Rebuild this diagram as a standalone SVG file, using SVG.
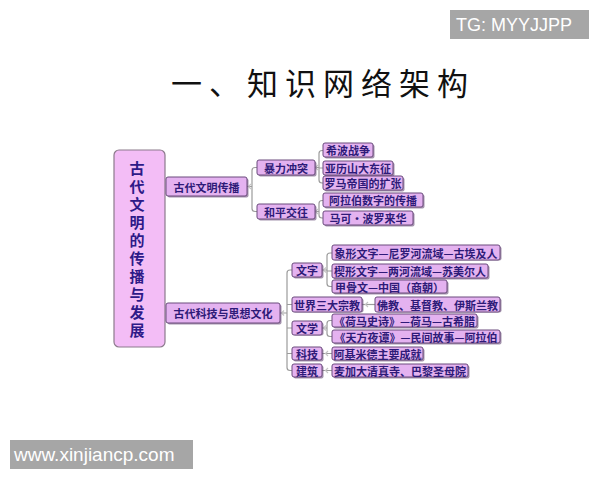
<svg xmlns="http://www.w3.org/2000/svg" width="600" height="480" viewBox="0 0 600 480">
<style>
.bx{fill:#e4b2f0;stroke:#6a4a7c;stroke-width:1}
.sh{fill:#5a3a6a;opacity:0.55}
.t{font-family:"Noto Sans CJK SC","Noto Sans",sans-serif;font-weight:bold;font-size:11px;fill:#2e1a78;text-anchor:middle;dominant-baseline:central}
.c{fill:none;stroke:#9c9c9c;stroke-width:1.2}
.ch{fill:none;stroke:#c4c4c4;stroke-width:1.2}
.wm{fill:#a6a6a6}
.wt{font-family:"Liberation Sans",Arial,sans-serif;fill:#ffffff}
</style>
<rect width="600" height="480" fill="#ffffff"/>
<g id="watermark-top"><rect class="wm" x="450" y="10" width="139" height="29"/><text class="wt" x="456" y="31" font-size="18">TG: MYYJJPP</text></g>
<g id="watermark-bottom"><rect class="wm" x="10" y="440" width="183" height="29"/><text class="wt" x="14" y="461" font-size="19">www.xinjiancp.com</text></g>
<text id="title" x="323" y="95" font-family="'Noto Sans CJK SC',sans-serif" font-size="31" letter-spacing="7" text-anchor="middle" fill="#111">一、知识网络架构</text>
<g id="connectors">
<path class="c" d="M247,186.5 H252 M257,167.5 H255 Q252,167.5 252,170.5 V208.5 Q252,211.5 255,211.5 H257"/>
<path class="c" d="M315,167.5 H319 M323,150.5 H322 Q319,150.5 319,153.5 V180 Q319,183 322,183 H323 M319,168 H323"/>
<path class="c" d="M315,211.5 H319 M323,200.5 H322 Q319,200.5 319,203.5 V215 Q319,218 322,218 H323"/>
<path class="c" d="M280,313 H287 M292,270 H290 Q287,270 287,273 V367.5 Q287,370.5 290,370.5 H292 M287,304.5 H292 M287,328 H292 M287,353.5 H292"/>
<path class="c" d="M322,270 H327 M332,253 H330 Q327,253 327,256 V283.5 Q327,286.5 330,286.5 H332 M327,271 H332"/>
<path class="c" d="M362,304.5 H375"/>
<path class="c" d="M322,328 H327 M332,320.5 H330 Q327,320.5 327,323.5 V333.5 Q327,336.5 330,336.5 H332"/>
<path class="c" d="M322,353.5 H332 M322,370.5 H332"/>
<path class="ch" d="M251,184 L248.5,186.5 L251,189 M318,165 L315.5,167.5 L318,170 M318,209 L315.5,211.5 L318,214 M284,310.5 L281.5,313 L284,315.5 M326,267.5 L323.5,270 L326,272.5 M368,302 L365.5,304.5 L368,307 M326,325.5 L323.5,328 L326,330.5 M328,351 L325.5,353.5 L328,356 M328,368 L325.5,370.5 L328,373"/>
</g>
<g id="n-main"><rect x="114" y="150" width="51" height="197" rx="5" fill="#f3bdf6" stroke="#8c7a8c" stroke-width="1.2"/>
<text x="137" y="161" writing-mode="tb" letter-spacing="3" font-family="'Noto Sans CJK SC',sans-serif" font-weight="bold" font-size="15" fill="#2e1a88">古代文明的传播与发展</text></g>
<g id="n-a"><rect class="sh" x="167.5" y="178.5" width="81" height="19" rx="2"/><rect class="bx" x="166" y="177" width="81" height="19" rx="2"/><text class="t" x="206.5" y="186.5">古代文明传播</text></g>
<g id="n-b"><rect class="sh" x="167.5" y="304.5" width="114" height="20" rx="2"/><rect class="bx" x="166" y="303" width="114" height="20" rx="2"/><text class="t" x="223" y="313">古代科技与思想文化</text></g>
<g id="n-a1"><rect class="sh" x="258.5" y="161.5" width="58" height="15" rx="2"/><rect class="bx" x="257" y="160" width="58" height="15" rx="2"/><text class="t" x="286" y="167.5">暴力冲突</text></g>
<g id="n-a2"><rect class="sh" x="258.5" y="205.5" width="58" height="15" rx="2"/><rect class="bx" x="257" y="204" width="58" height="15" rx="2"/><text class="t" x="286" y="211.5">和平交往</text></g>
<g id="n-a1a"><rect class="sh" x="324.5" y="144.5" width="50" height="14" rx="2"/><rect class="bx" x="323" y="143" width="50" height="14" rx="2"/><text class="t" x="348" y="150">希波战争</text></g>
<g id="n-a1b"><rect class="sh" x="324.5" y="162.5" width="70" height="14" rx="2"/><rect class="bx" x="323" y="161" width="70" height="14" rx="2"/><text class="t" x="358" y="168">亚历山大东征</text></g>
<g id="n-a1c"><rect class="sh" x="324.5" y="177.5" width="80" height="14" rx="2"/><rect class="bx" x="323" y="176" width="80" height="14" rx="2"/><text class="t" x="363" y="183">罗马帝国的扩张</text></g>
<g id="n-a2a"><rect class="sh" x="324.5" y="194.5" width="100" height="14" rx="2"/><rect class="bx" x="323" y="193" width="100" height="14" rx="2"/><text class="t" x="373" y="200">阿拉伯数字的传播</text></g>
<g id="n-a2b"><rect class="sh" x="324.5" y="212.5" width="90" height="14" rx="2"/><rect class="bx" x="323" y="211" width="90" height="14" rx="2"/><text class="t" x="368" y="218">马可·波罗来华</text></g>
<g id="n-b1"><rect class="sh" x="293.5" y="264.5" width="30" height="14" rx="2"/><rect class="bx" x="292" y="263" width="30" height="14" rx="2"/><text class="t" x="307" y="270">文字</text></g>
<g id="n-b1a"><rect class="sh" x="333.5" y="246.5" width="168" height="14" rx="2"/><rect class="bx" x="332" y="245" width="168" height="15" rx="2"/><text class="t" x="416" y="252.5">象形文字—尼罗河流域—古埃及人</text></g>
<g id="n-b1b"><rect class="sh" x="333.5" y="265.5" width="156" height="14" rx="2"/><rect class="bx" x="332" y="264" width="156" height="14" rx="2"/><text class="t" x="410" y="271">楔形文字—两河流域—苏美尔人</text></g>
<g id="n-b1c"><rect class="sh" x="333.5" y="281.5" width="115" height="13" rx="2"/><rect class="bx" x="332" y="280" width="115" height="13" rx="2"/><text class="t" x="389.5" y="286.5">甲骨文—中国（商朝）</text></g>
<g id="n-b2"><rect class="sh" x="293.5" y="298.5" width="70" height="14" rx="2"/><rect class="bx" x="292" y="297" width="70" height="15" rx="2"/><text class="t" x="327" y="304.5">世界三大宗教</text></g>
<g id="n-b2a"><rect class="sh" x="376.5" y="298.5" width="125" height="14" rx="2"/><rect class="bx" x="375" y="297" width="125" height="15" rx="2"/><text class="t" x="437.5" y="304.5">佛教、基督教、伊斯兰教</text></g>
<g id="n-b3"><rect class="sh" x="293.5" y="322.5" width="30" height="13" rx="2"/><rect class="bx" x="292" y="321" width="30" height="14" rx="2"/><text class="t" x="307" y="328">文学</text></g>
<g id="n-b3a"><rect class="sh" x="333.5" y="315.5" width="145" height="13" rx="2"/><rect class="bx" x="332" y="314" width="145" height="13" rx="2"/><text class="t" x="404.5" y="320.5">《荷马史诗》—荷马—古希腊</text></g>
<g id="n-b3b"><rect class="sh" x="333.5" y="331.5" width="168" height="13" rx="2"/><rect class="bx" x="332" y="330" width="168" height="13" rx="2"/><text class="t" x="416" y="336.5">《天方夜谭》—民间故事—阿拉伯</text></g>
<g id="n-b4"><rect class="sh" x="293.5" y="348.5" width="30" height="13" rx="2"/><rect class="bx" x="292" y="347" width="30" height="13" rx="2"/><text class="t" x="307" y="353.5">科技</text></g>
<g id="n-b4a"><rect class="sh" x="333.5" y="348.5" width="91" height="13" rx="2"/><rect class="bx" x="332" y="347" width="91" height="13" rx="2"/><text class="t" x="377.5" y="353.5">阿基米德主要成就</text></g>
<g id="n-b5"><rect class="sh" x="293.5" y="365.5" width="30" height="13" rx="2"/><rect class="bx" x="292" y="364" width="30" height="13" rx="2"/><text class="t" x="307" y="370.5">建筑</text></g>
<g id="n-b5a"><rect class="sh" x="333.5" y="365.5" width="136" height="13" rx="2"/><rect class="bx" x="332" y="364" width="136" height="13" rx="2"/><text class="t" x="400" y="370.5">麦加大清真寺、巴黎圣母院</text></g>
</svg>
